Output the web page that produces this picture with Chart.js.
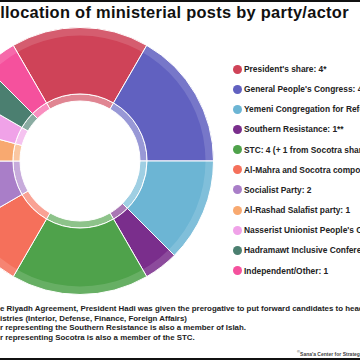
<!DOCTYPE html>
<html>
<head>
<meta charset="utf-8">
<script src="https://cdn.jsdelivr.net/npm/chart.js@4/dist/chart.umd.min.js"></script>
<style>
  html, body {
    margin: 0;
    padding: 0;
    width: 360px;
    height: 360px;
    overflow: hidden;
    background: #fff;
    font-family: "Liberation Sans", Arial, sans-serif;
  }
  #frame {
    position: relative;
    width: 360px;
    height: 360px;
    overflow: hidden;
  }
  .rule {
    position: absolute;
    left: 0;
    width: 360px;
    height: 2px;
    background: #111;
  }
  #title {
    position: absolute;
    left: -12px;
    top: 3px;
    white-space: nowrap;
    font-size: 16.4px;
    letter-spacing: 0.3px;
    font-weight: bold;
    color: #111;
  }
  #chart-box {
    position: absolute;
    left: -54px;
    top: 27px;
    width: 268px;
    height: 268px;
  }
  .legend-item {
    position: absolute;
    left: 233px;
    height: 12px;
    white-space: nowrap;
    font-size: 8.4px;
    font-weight: bold;
    color: #222;
    line-height: 12px;
  }
  .legend-dot {
    position: absolute;
    left: 0;
    top: 1.5px;
    width: 9px;
    height: 9px;
    border-radius: 50%;
  }
  .legend-text {
    position: absolute;
    left: 11px;
    top: 0;
  }
  #notes {
    position: absolute;
    left: 0;
    top: 304px;
    font-size: 7.9px;
    font-weight: bold;
    color: #222;
    line-height: 9.7px;
    white-space: nowrap;
  }
  #credit {
    position: absolute;
    left: 297px;
    top: 349px;
    font-size: 5px;
    font-weight: bold;
    color: #444;
    white-space: nowrap;
  }
</style>
</head>
<body>
<div id="frame">
  <div class="rule" style="top:0"></div>
  <div class="rule" style="top:358px"></div>
  <div id="title">Allocation of ministerial posts by party/actor</div>
  <div id="chart-box"><canvas id="posts-chart" width="268" height="268"></canvas></div>
  <div id="legend"></div>
  <div id="notes"></div>
  <div id="credit"><sup>©</sup>Sana'a Center for Strategic Studies</div>
</div>
<script>
const partyLabels = [
  "President's share: 4*",
  "General People's Congress: 4",
  "Yemeni Congregation for Reform (Islah): 3",
  "Southern Resistance: 1**",
  "STC: 4 (+ 1 from Socotra share)***",
  "Al-Mahra and Socotra component: 2",
  "Socialist Party: 2",
  "Al-Rashad Salafist party: 1",
  "Nasserist Unionist People's Organization: 1",
  "Hadramawt Inclusive Conference: 1",
  "Independent/Other: 1"
];

const ministryCounts = [4, 4, 3, 1, 4, 2, 2, 1, 1, 1, 1];

const partyColors = [
  "#cf4358", "#6161c0", "#6cb5d4", "#7a2e8c", "#4fa24b",
  "#f5705b", "#a97ec8", "#f8a970", "#f0a2e8", "#4b7f70", "#f5519d"
];

const footnoteLines = [
  "e Riyadh Agreement, President Hadi was given the prerogative to put forward candidates to head four sovereign",
  "istries (Interior, Defense, Finance, Foreign Affairs)",
  "r representing the Southern Resistance is also a member of Islah.",
  "r representing Socotra is also a member of the STC."
];

function lighten(hex, amount) {
  const n = parseInt(hex.slice(1), 16);
  const mix = (c) => Math.round(c + (255 - c) * amount);
  return `rgb(${mix(n >> 16)}, ${mix((n >> 8) & 255)}, ${mix(n & 255)})`;
}

function buildLegend() {
  const legend = document.getElementById("legend");
  partyLabels.forEach((label, index) => {
    const item = document.createElement("div");
    item.className = "legend-item";
    item.style.top = `${63 + index * 20.15}px`;
    item.innerHTML = `<span class="legend-dot" style="background:${partyColors[index]}"></span><span class="legend-text"></span>`;
    item.querySelector(".legend-text").textContent = label;
    legend.appendChild(item);
  });
}

function buildNotes() {
  document.getElementById("notes").innerHTML = footnoteLines
    .map((line) => `<div>${line}</div>`)
    .join("");
}

// light band round the outer edge of the main ring
const outerSheen = {
  id: "outerSheen",
  afterDatasetsDraw(chart) {
    const arc = chart.getDatasetMeta(0).data[0];
    if (!arc) {
      return;
    }
    const { ctx } = chart;
    const r = arc.outerRadius;
    ctx.save();
    ctx.beginPath();
    ctx.arc(arc.x, arc.y, r, 0, Math.PI * 2);
    ctx.arc(arc.x, arc.y, r - 8, 0, Math.PI * 2, true);
    ctx.fillStyle = "rgba(255, 255, 255, 0.14)";
    ctx.fill();
    ctx.restore();
  }
};

function createChart() {
  new Chart(document.getElementById("posts-chart").getContext("2d"), {
    type: "doughnut",
    data: {
      labels: partyLabels,
      datasets: [
        {
          data: ministryCounts,
          backgroundColor: partyColors,
          borderColor: "#ffffff",
          borderWidth: 1,
          hoverOffset: 0,
          weight: 66
        },
        {
          data: ministryCounts,
          backgroundColor: partyColors.map((c) => lighten(c, 0.35)),
          borderColor: "#ffffff",
          borderWidth: 1,
          hoverOffset: 0,
          weight: 7
        }
      ]
    },
    options: {
      responsive: false,
      maintainAspectRatio: false,
      animation: false,
      rotation: -30,
      cutout: 60,
      layout: {
        padding: 0
      },
      plugins: {
        legend: {
          display: false
        },
        tooltip: {
          enabled: false
        }
      }
    },
    plugins: [outerSheen]
  });
}

buildLegend();
buildNotes();
createChart();
</script>
</body>
</html>
